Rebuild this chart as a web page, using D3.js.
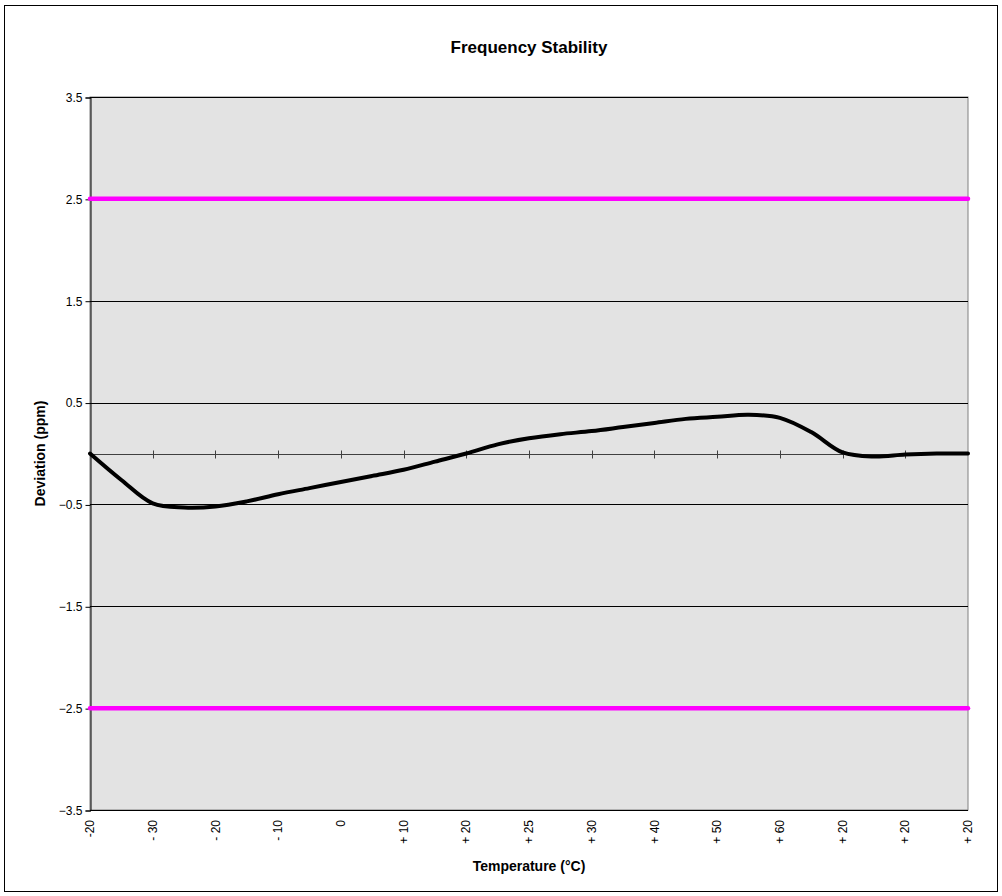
<!DOCTYPE html>
<html>
<head>
<meta charset="utf-8">
<script src="https://cdn.jsdelivr.net/npm/d3@7"></script>
<style>
    body { margin: 0; background: #fff; }
    svg { display: block; font-family: Arial, "Liberation Sans", sans-serif; }
</style>
</head>
<body>
<svg id="chart"></svg>
<script>
// category labels along the temperature axis
const tempLabels = ["-20", "- 30", "- 20", "- 10", "0", "+ 10", "+ 20", "+ 25", "+ 30",
    "+ 40", "+ 50", "+ 60", "+ 20", "+ 20", "+ 20"];

// measured deviation, two readings per category step (ppm)
const deviation = [0, -0.26, -0.49, -0.53, -0.52, -0.47, -0.40, -0.34, -0.28, -0.22,
    -0.16, -0.08, 0.0, 0.09, 0.15, 0.19, 0.22, 0.26, 0.30, 0.34,
    0.36, 0.38, 0.35, 0.21, 0.01, -0.03, -0.01, 0, 0];

// tolerance limits (ppm)
const limits = [2.5, -2.5];

const yTicks = [3.5, 2.5, 1.5, 0.5, -0.5, -1.5, -2.5, -3.5];

const width = 1002, height = 896;
const margin = { top: 97, right: 34, bottom: 86, left: 90 };

const svg = d3.select("#chart")
    .attr("width", width)
    .attr("height", height);

// outer chart border
svg.append("rect")
    .attr("x", 4.5).attr("y", 5.5)
    .attr("width", 993).attr("height", 886)
    .attr("fill", "#fff")
    .attr("stroke", "#000")
    .attr("stroke-width", 1);

const x = d3.scaleLinear()
    .domain([0, tempLabels.length - 1])
    .range([margin.left, width - margin.right]);

const y = d3.scaleLinear()
    .domain([-3.5, 3.5])
    .range([height - margin.bottom, margin.top]);

// plot area
svg.append("rect")
    .attr("x", x(0)).attr("y", y(3.5))
    .attr("width", x(14) - x(0)).attr("height", y(-3.5) - y(3.5))
    .attr("fill", "#e3e3e3")
    .attr("stroke", "#808080")
    .attr("stroke-width", 1);

// gridlines
svg.append("g")
    .selectAll("line")
    .data(yTicks)
    .enter().append("line")
    .attr("x1", x(0)).attr("x2", x(14))
    .attr("y1", d => Math.round(y(d)) + 0.5)
    .attr("y2", d => Math.round(y(d)) + 0.5)
    .attr("stroke", "#000")
    .attr("stroke-width", 1);

// y axis
const yAxis = svg.append("g")
    .attr("transform", `translate(${x(0) + 0.5},0.5)`)
    .call(d3.axisLeft(y).tickValues(yTicks).tickSize(5).tickPadding(3)
        .tickFormat(d3.format(".1f")));
yAxis.select(".domain").attr("stroke", "#000");
yAxis.selectAll(".tick line").attr("stroke", "#000");
yAxis.selectAll("text")
    .attr("font-size", 12)
    .attr("font-family", "Arial, 'Liberation Sans', sans-serif")
    .attr("fill", "#000");

// x axis line at zero with crossing ticks
const zeroY = Math.round(y(0)) + 0.5;
svg.append("line")
    .attr("x1", x(0)).attr("x2", x(14))
    .attr("y1", zeroY).attr("y2", zeroY)
    .attr("stroke", "#404040")
    .attr("stroke-width", 1);

svg.append("g")
    .selectAll("line")
    .data(d3.range(1, tempLabels.length - 1))
    .enter().append("line")
    .attr("x1", d => Math.round(x(d)) + 0.5)
    .attr("x2", d => Math.round(x(d)) + 0.5)
    .attr("y1", zeroY - 4).attr("y2", zeroY + 4)
    .attr("stroke", "#404040")
    .attr("stroke-width", 1);

// x tick labels, rotated
svg.append("g")
    .selectAll("text")
    .data(tempLabels)
    .enter().append("text")
    .attr("transform", (d, i) => `translate(${x(i)},${y(-3.5) + 10}) rotate(-90)`)
    .attr("text-anchor", "end")
    .attr("dy", "0.35em")
    .attr("font-size", 12)
    .attr("fill", "#000")
    .text(d => d);

// limit lines
svg.append("g")
    .selectAll("line")
    .data(limits)
    .enter().append("line")
    .attr("x1", x(0)).attr("x2", x(14))
    .attr("y1", d => y(d)).attr("y2", d => y(d))
    .attr("stroke", "#ff00ff")
    .attr("stroke-width", 4.5)
    .attr("stroke-linecap", "round");

// deviation curve
const line = d3.line()
    .x((d, i) => x(i / 2))
    .y(d => y(d))
    .curve(d3.curveCatmullRom.alpha(0.5));

svg.append("path")
    .datum(deviation)
    .attr("d", line)
    .attr("fill", "none")
    .attr("stroke", "#000")
    .attr("stroke-width", 4)
    .attr("stroke-linejoin", "round")
    .attr("stroke-linecap", "round");

// titles
svg.append("text")
    .attr("x", (x(0) + x(14)) / 2)
    .attr("y", 53)
    .attr("text-anchor", "middle")
    .attr("font-size", 17)
    .attr("font-weight", "bold")
    .text("Frequency Stability");

svg.append("text")
    .attr("x", (x(0) + x(14)) / 2)
    .attr("y", 871)
    .attr("text-anchor", "middle")
    .attr("font-size", 14)
    .attr("font-weight", "bold")
    .text("Temperature (°C)");

svg.append("text")
    .attr("transform", `translate(45,${y(0)}) rotate(-90)`)
    .attr("text-anchor", "middle")
    .attr("font-size", 14)
    .attr("font-weight", "bold")
    .text("Deviation (ppm)");
</script>
</body>
</html>
